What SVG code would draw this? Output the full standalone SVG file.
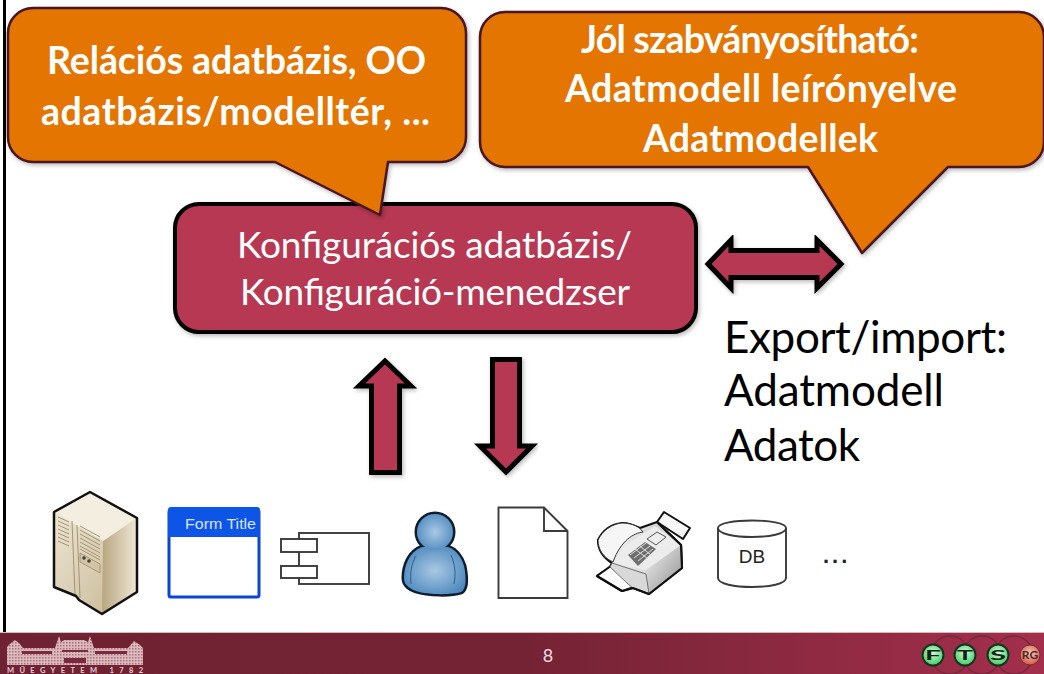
<svg xmlns="http://www.w3.org/2000/svg" width="1044" height="674" viewBox="0 0 1044 674">
<defs>
<style>
text{font-family:"Lato","Open Sans","Liberation Sans",sans-serif}
.sans{font-family:"Liberation Sans",sans-serif}
.co{fill:#e37400;stroke:#4a1420;stroke-width:2.5;stroke-linejoin:round;filter:url(#sh)}
.ct{fill:#fff;font-weight:700;font-size:37.500px}
.mt{fill:#fff;font-size:37px}
.ar{fill:#b73752;stroke:#000;stroke-width:5;stroke-linejoin:miter;filter:url(#sh)}
.bl{fill:#000;font-size:44px}
.ln{fill:none;stroke:#3a3a3a;stroke-width:1.900}
.wh{fill:#fff;stroke:#3a3a3a;stroke-width:1.900}
.fts{font-size:14px;font-weight:700;fill:#10231a}
.ft{fill:url(#grn);stroke:#17331f;stroke-width:2}
</style>
<filter id="sh" x="-10%" y="-10%" width="120%" height="125%"><feDropShadow dx="1.500" dy="2" stdDeviation="2" flood-color="#000" flood-opacity=".28"/></filter>
<pattern id="bldg" width="3" height="3" patternUnits="userSpaceOnUse"><rect width="3" height="3" fill="#dcb9bd"/><rect width="1.500" height="1.500" fill="#a86f7c"/></pattern>
<linearGradient id="foot" x1="0" x2="1" y1="0" y2="0"><stop offset="0" stop-color="#6f2233"/><stop offset=".5" stop-color="#742334"/><stop offset="1" stop-color="#a32f4c"/></linearGradient>
<linearGradient id="srv" x1="0" x2="1" y1="0" y2="1"><stop offset="0" stop-color="#f1eadb"/><stop offset="1" stop-color="#c4b48f"/></linearGradient>
<linearGradient id="srv2" x1="0" x2="1" y1="0" y2="0"><stop offset="0" stop-color="#b8a67f"/><stop offset="1" stop-color="#efe8d6"/></linearGradient>
<radialGradient id="usr" cx=".5" cy=".5" r=".6"><stop offset="0" stop-color="#a9c8e4"/><stop offset="1" stop-color="#4c87bd"/></radialGradient>
<linearGradient id="fx" x1="0" x2="1" y1="0" y2="0"><stop offset="0" stop-color="#f5f5f5"/><stop offset="1" stop-color="#c9c9c9"/></linearGradient>
<linearGradient id="fxs" x1="0" x2="1" y1="0" y2="1"><stop offset="0" stop-color="#f2f2f2"/><stop offset="1" stop-color="#8e8e8e"/></linearGradient>
<radialGradient id="grn" cx=".5" cy=".4" r=".6"><stop offset="0" stop-color="#d4fbd6"/><stop offset="1" stop-color="#3fcb62"/></radialGradient>
<radialGradient id="rd" cx=".5" cy=".4" r=".6"><stop offset="0" stop-color="#f5c9b8"/><stop offset="1" stop-color="#d9573f"/></radialGradient>
</defs>
<rect width="1044" height="674" fill="#fff"/>
<rect x="3" y="0" width="3" height="633" fill="#000"/>

<g id="footer">
<rect x="0" y="632" width="1044" height="42" fill="url(#foot)"/>
<rect x="0" y="632" width="1044" height="1" fill="#d8b8c0"/>
<g id="university-logo">
<path d="M7 665V647L11 643L15 640L19 643L23 648L55 648L57 642L59 636L61 642L64 640H84L88 642L90 636L92 642L94 648H128L134 641L140 645L143 648V665Z" fill="url(#bldg)"/>
<g fill="#7a2a3c"><rect x="22" y="651" width="30" height="3"/><rect x="95" y="651" width="32" height="3"/><rect x="62" y="650" width="26" height="2"/><rect x="64" y="658" width="22" height="5"/></g>
<text x="7" y="673" font-size="7.500" font-weight="700" fill="#e8cdd0" textLength="136">MŰEGYETEM 1782</text>
</g>
<text x="548" y="662" font-size="18" fill="#f3dfe2" text-anchor="middle">8</text>
<g id="fts-logo">
<g fill="none" stroke="#74283c" stroke-width="1.300"><circle cx="950" cy="655" r="19"/><circle cx="982" cy="655" r="19"/><circle cx="1014" cy="655" r="19"/></g>
<circle class="ft" cx="933" cy="655" r="10.500"/>
<circle class="ft" cx="965" cy="655" r="10.500"/>
<circle class="ft" cx="998" cy="655" r="10.500"/>
<circle cx="1030" cy="655" r="10" fill="url(#rd)" stroke="#70303a" stroke-width="1"/>
<text class="fts" x="925" y="660" textLength="16" lengthAdjust="spacingAndGlyphs">F</text>
<text class="fts" x="957" y="660" textLength="16" lengthAdjust="spacingAndGlyphs">T</text>
<text class="fts" x="990" y="660" textLength="16" lengthAdjust="spacingAndGlyphs">S</text>
<text x="1030" y="659" font-size="12" font-weight="700" text-anchor="middle" fill="#4a2a2a">RG</text>
</g>
</g>

<g id="main-box">
<rect x="175" y="204" width="521" height="128" rx="24" fill="#b73752" stroke="#000" stroke-width="4" filter="url(#sh)"/>
<text class="mt" x="237" y="258" textLength="395">Konfigurációs adatbázis/</text>
<text class="mt" x="240" y="305" textLength="390">Konfiguráció-menedzser</text>
</g>

<g id="callout-left">
<path class="co" d="M33 8H441A25 25 0 0 1 466 33V137A25 25 0 0 1 441 162H388L380 215L275 162H33A25 25 0 0 1 8 137V33A25 25 0 0 1 33 8Z"/>
<text class="ct" x="47" y="74" textLength="379">Relációs adatbázis, OO</text>
<text class="ct" x="41" y="125" textLength="389">adatbázis/modelltér, ...</text>
</g>

<g id="callout-right">
<path class="co" d="M505 12H1019A25 25 0 0 1 1044 37V142A25 25 0 0 1 1019 167H948L862 253L808 167H505A25 25 0 0 1 480 142V37A25 25 0 0 1 505 12Z"/>
<text class="ct" x="581" y="53" textLength="338">Jól szabványosítható:</text>
<text class="ct" x="565" y="102" textLength="392">Adatmodell leírónyelve</text>
<text class="ct" x="643" y="152" textLength="235">Adatmodellek</text>
</g>

<g id="connectors">
<polygon class="ar" points="708,264 731,240 731,250.500 817,250.500 817,240 841,264 817,288 817,277.500 731,277.500 731,288"/>
<polygon class="ar" points="385,361 411,386 399.500,386 399.500,472.500 371.500,472.500 371.500,386 359,386"/>
<polygon class="ar" points="506,472 532,446 519.500,446 519.500,359.500 492.500,359.500 492.500,446 480,446"/>
</g>

<g id="export-label">
<text class="bl" x="724" y="353" textLength="283">Export/import:</text>
<text class="bl" x="724" y="406" textLength="220">Adatmodell</text>
<text class="bl" x="724" y="461" textLength="136">Adatok</text>
</g>

<g id="server">
<path d="M54 512L90 492L137 518V592L102 614L79 600L76 596L54 587Z" fill="url(#srv)"/>
<path d="M103 541L137 518V592L102 614Z" fill="url(#srv2)"/>
<path d="M54 512L90 492L137 518L103 541Z" fill="#f4eee0"/>
<g stroke="#a39473" stroke-width="1" fill="none">
<path d="M72 521L75 595M77 525L80 598"/>
<path d="M58 517L69 522M58 521L69 526M58 525L69 530M58 529L69 534M58 533L69 538M58 537L69 542M58 541L69 546"/>
<path d="M80 526L100 537M80 530L100 541M80 534L100 545M80 538L100 549M80 542L100 553M80 546L100 557M80 549L100 560"/>
</g>
<path d="M80 553L100 564V573L80 562Z" fill="#d2c5a5" stroke="#988a69" stroke-width=".8"/>
<circle cx="84" cy="558" r="1.800" fill="#444"/><circle cx="89" cy="561" r="1.800" fill="#444"/>
<path d="M54 512L90 492L137 518V592L102 614L79 600L76 596L54 587Z" fill="none" stroke="#111" stroke-width="2.500" stroke-linejoin="round"/>
</g>

<g id="form">
<rect x="169" y="510" width="90" height="87" rx="2" fill="#fff" stroke="#0a44d8" stroke-width="3"/>
<path d="M168 537V510Q168 507 171 507H257Q260 507 260 510V537Z" fill="#0d55e6"/>
<text class="sans" x="185" y="529" font-size="14.500" fill="#d5e4ff" textLength="71" lengthAdjust="spacingAndGlyphs">Form Title</text>
</g>

<g id="component">
<rect x="299" y="533" width="70" height="51" class="wh"/>
<rect x="281" y="539" width="36" height="13" class="wh"/>
<rect x="281" y="566" width="36" height="12" class="wh"/>
</g>

<g id="user">
<g stroke="#0c1e2e" stroke-width="5" stroke-linejoin="round" fill="#0c1e2e">
<circle cx="435" cy="532" r="18"/>
<path d="M422 547C409 552 404 566 404 578C404 586 411 589 416 591C428 595 452 595 461 592C467 589 466 576 464 566C461 556 456 550 448 547Z"/>
</g>
<path d="M422 547C409 552 404 566 404 578C404 586 411 589 416 591C428 595 452 595 461 592C467 589 466 576 464 566C461 556 456 550 448 547Z" fill="url(#usr)"/>
<circle cx="435" cy="532" r="18" fill="url(#usr)"/>
<path d="M411 584C410 574 411 564 416 556M454 584C456 574 455 564 451 555" fill="none" stroke="#2f5f8c" stroke-width="1"/>
</g>

<g id="document">
<path class="wh" d="M498.500 507.500H544L567.500 531V598H498.500Z"/>
<path class="ln" d="M544 507.500V531H567.500"/>
</g>

<g id="fax">
<path d="M657 522L664 512L690 528L683 539Z" fill="#f6f6f6" stroke="#111" stroke-width="2" stroke-linejoin="round"/>
<path d="M598 540C603 530 612 524 622 523C630 523 636 526 640 528L657 522L681 545L682 568L649 594L633 588L622 591L597 576L610 567L612 563C604 558 598 550 598 540Z" fill="url(#fx)" stroke="#111" stroke-width="2.200" stroke-linejoin="round"/>
<path d="M649 594L646 570L681 545L682 568Z" fill="url(#fxs)"/>
<path d="M612 563L646 570L681 545L655 526L626 545Z" fill="#ececec"/>
<path d="M598 540C603 530 612 524 622 523C632 523 640 527 643 532C634 533 621 540 613 562C604 558 598 550 598 540Z" fill="#f6f6f6" stroke="#333" stroke-width="1"/>
<path d="M597 576L611 566L644 583L622 591Z" fill="#fff" stroke="#111" stroke-width="1.600" stroke-linejoin="round"/>
<path d="M628 584L633 588L649 594L646 574L612 563L610 567Z" fill="#d8d8d8" stroke="#555" stroke-width=".8"/>
<path d="M628 555L645 542L656 549L638 566Z" fill="#6f6f6f"/>
<path d="M630 555L646 543M634 558L650 546M638 561L653 549M635 549L648 559M640 546L652 556" stroke="#ddd" stroke-width="1"/>
<path d="M647 539L657 532L666 537L656 545Z" fill="#eee" stroke="#555" stroke-width="1"/>
<path d="M597 576L622 591L633 588L649 594L682 568L681 545L657 522" fill="none" stroke="#111" stroke-width="2.200" stroke-linejoin="round"/>
</g>

<g id="database">
<path class="wh" d="M718 528C718 518 786 518 786 528V578C786 590 718 590 718 578Z"/>
<path class="ln" d="M718 528C718 540 786 540 786 528"/>
<text class="sans" x="752" y="563" font-size="19" fill="#222" text-anchor="middle">DB</text>
</g>
<text class="sans" x="823" y="563" font-size="22" font-weight="700" fill="#222" letter-spacing="3">...</text>
</svg>
